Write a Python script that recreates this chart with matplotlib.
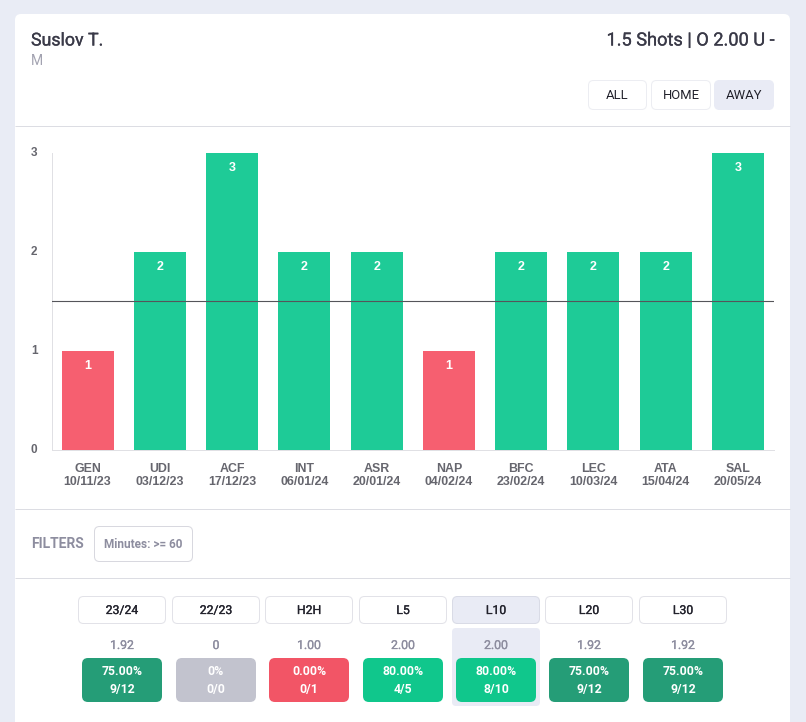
import matplotlib
matplotlib.use('Agg')
import matplotlib.pyplot as plt
import matplotlib.patheffects as path_effects
from matplotlib.patches import FancyBboxPatch

# Dados do grafico
teams = ['GEN', 'UDI', 'ACF', 'INT', 'ASR', 'NAP', 'BFC', 'LEC', 'ATA', 'SAL']
dates = ['10/11/23', '03/12/23', '17/12/23', '06/01/24', '20/01/24',
         '04/02/24', '23/02/24', '10/03/24', '15/04/24', '20/05/24']
shots = [1, 2, 3, 2, 2, 1, 2, 2, 2, 3]
line_value = 1.5

# Tabela de baixo
periods = ['23/24', '22/23', 'H2H', 'L5', 'L10', 'L20', 'L30']
averages = ['1.92', '0', '1.00', '2.00', '2.00', '1.92', '1.92']
percents = ['75.00%', '0%', '0.00%', '80.00%', '80.00%', '75.00%', '75.00%']
ratios = ['9/12', '0/0', '0/1', '4/5', '8/10', '9/12', '9/12']

# Cores
color_page = '#e9ecf5'
color_rule = '#dcdde3'
color_green = '#1ecb97'
color_red = '#f65f70'
color_dark = '#3a3a48'
color_muted = '#8d8d9f'
color_border = '#e2e2e8'
color_active = '#e9ebf5'
box_colors = ['#259d77', '#c2c3ce', '#f25566', '#10c78c', '#10c78c', '#259d77', '#259d77']

plt.rcParams['font.family'] = ['Roboto', 'DejaVu Sans']

W, H = 806, 722
fig = plt.figure(figsize=(W / 100, H / 100), dpi=100, facecolor=color_page)

# Camada de fundo em pixels
bg = fig.add_axes([0, 0, 1, 1])
bg.set_xlim(0, W)
bg.set_ylim(H, 0)
bg.axis('off')


def round_box(x0, y0, x1, y1, face, edge='none', r=5, lw=0.72):
    box = FancyBboxPatch((x0 + r, y0 + r), x1 - x0 - 2 * r, y1 - y0 - 2 * r,
                         boxstyle='round,pad=%d,rounding_size=%d' % (r, r),
                         facecolor=face, edgecolor=edge, linewidth=lw)
    bg.add_patch(box)


def rule(y):
    bg.plot([15, 790], [y, y], color=color_rule, lw=0.72, solid_capstyle='butt')


# Roboto medium: engrossa um pouco o traco
def medium_text(x, y, text, color, fontsize, ha='center', stroke=0.2):
    t = bg.text(x, y, text, fontsize=fontsize, color=color, ha=ha, va='center')
    t.set_path_effects([path_effects.withStroke(linewidth=stroke, foreground=color)])


# Cartao branco
round_box(15, 14, 790, 760, 'white', r=6)
rule(126)
rule(509)
rule(578)

# Cabecalho
medium_text(31, 40.5, 'Suslov T.', color_dark, 12.8, ha='left')
bg.text(31, 61, 'M', fontsize=10, color='#a3a3b1', va='center', ha='left')
medium_text(774, 40.5, '1.5 Shots | O 2.00 U -', color_dark, 13.1, ha='right')

# Botoes ALL / HOME / AWAY
buttons = [('ALL', 588, 647, 'white', '#ecedf2'),
           ('HOME', 651, 711, 'white', '#ecedf2'),
           ('AWAY', 714, 774, color_active, color_active)]
for label, x0, x1, face, edge in buttons:
    round_box(x0 + 0.5, 80.5, x1 - 0.5, 109.5, face, edge)
    bg.text((x0 + x1) / 2, 95.5, label, fontsize=9.4, color='#22222c', ha='center', va='center')

# Filtros
bg.text(31, 543.5, 'FILTERS', fontsize=10, fontweight='bold', color=color_muted,
        ha='left', va='center')
round_box(94.5, 526.5, 192.5, 561.5, 'white', '#d8d8df')
bg.text(143.5, 544, 'Minutes: >= 60', fontsize=8.5, fontweight='bold', color=color_muted,
        ha='center', va='center')

# Tabela de periodos
tab_left = [78, 172, 265, 359, 452, 545, 639]
box_left = [82, 176, 269, 363, 456, 549, 643]
round_box(452, 628, 540, 706, color_active, r=4)
for i, period in enumerate(periods):
    x0 = tab_left[i]
    active = period == 'L10'
    round_box(x0 + 0.5, 596.5, x0 + 87.5, 623.5, color_active if active else 'white',
              '#d9dbe6' if active else color_border)
    mid = x0 + 44
    medium_text(mid, 610.5, period, '#22222c', 8.8)
    medium_text(mid, 645.5, averages[i], color_muted, 8.8)
    round_box(box_left[i], 658, box_left[i] + 80, 702, box_colors[i], r=6)
    bg.text(mid, 671.5, percents[i], fontsize=8.8, fontweight='bold', color='white',
            ha='center', va='center')
    bg.text(mid, 689.5, ratios[i], fontsize=8.8, fontweight='bold', color='white',
            ha='center', va='center')

# Grafico de barras
ax = fig.add_axes([51.5 / W, 1 - 449.8 / H, 722.5 / W, 297 / H])
ax.patch.set_alpha(0)
x = list(range(len(teams)))
bar_colors = [color_green if v > line_value else color_red for v in shots]
bars = ax.bar(x, shots, width=0.72, color=bar_colors, zorder=2)
ax.bar_label(bars, labels=[str(v) for v in shots], label_type='edge', padding=-15,
             color='white', fontsize=9, fontweight='bold',
             family=['Liberation Sans'])
ax.axhline(line_value, color='#55555a', lw=0.8, zorder=3)
ax.set_xlim(-0.5, len(teams) - 0.5)
ax.set_ylim(0, 3)
ax.set_yticks([0, 1, 2, 3])
ax.set_xticks(x)
ax.set_xticklabels(['%s\n%s' % (t, d) for t, d in zip(teams, dates)])
ax.tick_params(axis='both', length=0)
ax.tick_params(axis='x', pad=9.5)
ax.tick_params(axis='y', pad=10)
for lab in ax.get_xticklabels() + ax.get_yticklabels():
    lab.set_family(['Liberation Sans'])
    lab.set_fontweight('bold')
    lab.set_fontsize(8.9)
    lab.set_color('#66666e')
for lab in ax.get_xticklabels():
    lab.set_linespacing(1.12)
for lab in ax.get_yticklabels():
    lab.set_verticalalignment('center')
    lab.set_fontsize(8.5)
ax.spines['top'].set_visible(False)
ax.spines['right'].set_visible(False)
ax.spines['left'].set_color('#e0e0e4')
ax.spines['bottom'].set_color('#e0e0e4')
ax.spines['left'].set_linewidth(0.72)
ax.spines['bottom'].set_linewidth(0.72)

fig.savefig('out.png', dpi=100, facecolor=color_page)
plt.close(fig)
